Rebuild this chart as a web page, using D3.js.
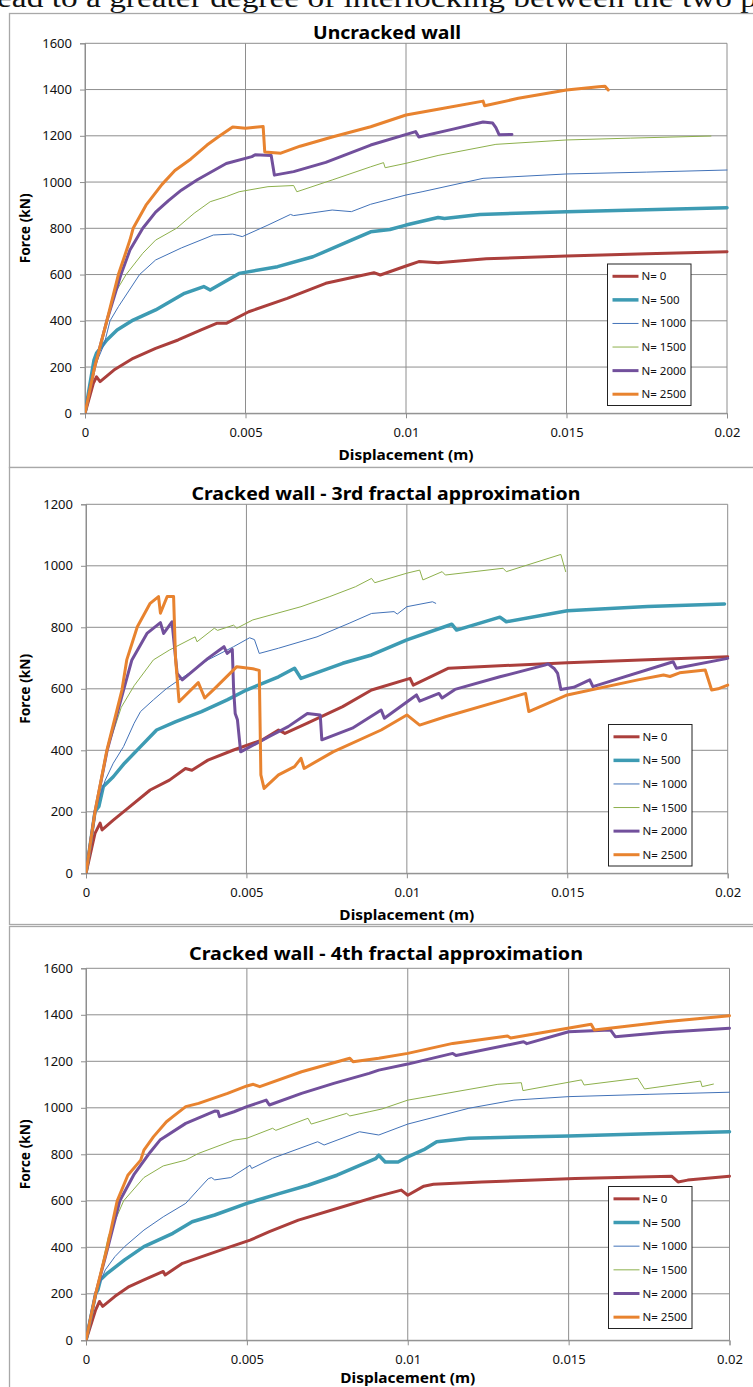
<!DOCTYPE html>
<html><head><meta charset="utf-8">
<script src="https://cdn.jsdelivr.net/npm/d3@7"></script>
<style>
html,body{margin:0;padding:0;background:#fff;overflow:hidden}
svg{display:block}
text{font-family:"Noto Sans",Arial,sans-serif}
</style></head>
<body>
<svg id="c" width="753" height="1387"></svg>
<script>
// ---------- data ----------
const seriesNames = ["N= 0","N= 500","N= 1000","N= 1500","N= 2000","N= 2500"];
const chartTitles = ["Uncracked wall","Cracked wall - 3rd fractal approximation","Cracked wall - 4th fractal approximation"];
const xTicks = [0,0.005,0.01,0.015,0.02];
const xTickLabels = ["0","0.005","0.01","0.015","0.02"];
const yTicks1600 = [0,200,400,600,800,1000,1200,1400,1600];
const yTicks1200 = [0,200,400,600,800,1000,1200];
const xLabel = "Displacement (m)";
const yLabel = "Force (kN)";
const topText = "ead to a greater degree of interlocking between the two p";

// Uncracked wall  [displacement (m), force (kN)]
const u_N0 = [[0,0],[0.00026,130],[0.00036,158],[0.00047,137],[0.0009,187],[0.0015,238],[0.0022,281],[0.0029,317],[0.0036,360],[0.0041,389],[0.0044,389],[0.0051,439],[0.0063,497],[0.0075,562],[0.009,608],[0.0092,598],[0.01,637],[0.0104,656],[0.011,651],[0.0125,668],[0.015,680],[0.0175,690],[0.02,699]];
const u_N500 = [[0,0],[0.00028,230],[0.00036,260],[0.00068,317],[0.001,360],[0.0015,403],[0.0022,447],[0.0031,519],[0.0037,548],[0.0039,533],[0.0048,605],[0.006,634],[0.0071,677],[0.0083,749],[0.0089,785],[0.0095,795],[0.01,814],[0.011,847],[0.0112,842],[0.0123,860],[0.015,872],[0.0175,880],[0.02,889]];
const u_N1000 = [[0,0],[0.0003,200],[0.0006,300],[0.00078,400],[0.00104,461],[0.0017,600],[0.0022,663],[0.003,715],[0.004,771],[0.0046,775],[0.0049,764],[0.0057,814],[0.0064,860],[0.0065,855],[0.0077,879],[0.0083,872],[0.0089,904],[0.01,944],[0.0105,958],[0.0124,1016],[0.015,1035],[0.0175,1043],[0.02,1052]];
const u_N1500 = [[0,0],[0.0003,200],[0.00068,400],[0.00085,500],[0.00128,600],[0.0018,692],[0.0022,749],[0.00285,800],[0.0034,865],[0.0039,915],[0.0044,937],[0.0048,958],[0.0057,980],[0.0065,985],[0.0066,958],[0.0077,1009],[0.0089,1066],[0.0093,1084],[0.00935,1062],[0.01,1081],[0.011,1115],[0.0128,1163],[0.015,1182],[0.017,1190],[0.0195,1199]];
const u_N2000 = [[0,0],[0.0003,200],[0.00068,400],[0.00112,600],[0.0014,706],[0.0018,800],[0.0022,870],[0.0026,920],[0.003,965],[0.0035,1010],[0.0044,1080],[0.0052,1110],[0.0053,1118],[0.0058,1115],[0.0059,1030],[0.0065,1045],[0.0075,1085],[0.0089,1160],[0.0103,1218],[0.0104,1195],[0.0115,1230],[0.0124,1260],[0.0127,1255],[0.0128,1235],[0.0129,1205],[0.0133,1206]];
const u_N2500 = [[0,0],[0.0003,200],[0.00068,400],[0.00104,600],[0.0014,749],[0.0015,800],[0.0019,900],[0.0024,990],[0.0028,1050],[0.0033,1100],[0.0038,1160],[0.0042,1200],[0.0046,1238],[0.005,1233],[0.0053,1237],[0.00555,1240],[0.0056,1130],[0.0061,1125],[0.0067,1155],[0.0077,1195],[0.0089,1239],[0.01,1290],[0.011,1315],[0.0124,1350],[0.01245,1330],[0.0135,1362],[0.015,1398],[0.016,1412],[0.0162,1414],[0.0163,1398]];

// Cracked wall - 3rd fractal approximation
const c3_N0 = [[0,0],[0.00028,130],[0.00044,163],[0.0005,141],[0.00085,173],[0.0013,211],[0.002,271],[0.0026,303],[0.0031,341],[0.0033,335],[0.0038,368],[0.0046,401],[0.0055,434],[0.006,466],[0.0062,455],[0.0069,488],[0.008,542],[0.0089,596],[0.0101,634],[0.0102,612],[0.0113,667],[0.015,685],[0.02,704]];
const c3_N500 = [[0,0],[0.00028,200],[0.0004,217],[0.00054,282],[0.00085,314],[0.0012,358],[0.0017,412],[0.0022,466],[0.0028,493],[0.0036,526],[0.0044,564],[0.005,596],[0.006,639],[0.0065,667],[0.0067,634],[0.008,683],[0.0089,710],[0.01,759],[0.0114,810],[0.01155,791],[0.0129,833],[0.0131,818],[0.015,854],[0.0175,868],[0.0199,876]];
const c3_N1000 = [[0,0],[0.00028,200],[0.0006,303],[0.00085,358],[0.00117,412],[0.0015,488],[0.0017,526],[0.0021,564],[0.0025,600],[0.0029,629],[0.0032,650],[0.0038,694],[0.0046,737],[0.0051,766],[0.00525,760],[0.0054,715],[0.006,732],[0.0072,769],[0.0082,813],[0.0089,845],[0.0096,851],[0.0097,843],[0.01,867],[0.0108,883],[0.0109,878]];
const c3_N1500 = [[0,0],[0.00028,200],[0.00066,400],[0.0011,540],[0.0015,610],[0.0021,694],[0.0026,726],[0.0034,769],[0.00346,753],[0.004,797],[0.0041,790],[0.0046,807],[0.0047,797],[0.0052,824],[0.0067,867],[0.0076,900],[0.0084,932],[0.0089,959],[0.009,945],[0.01,976],[0.0104,986],[0.0105,954],[0.0111,981],[0.0112,970],[0.013,992],[0.0131,981],[0.0148,1037],[0.01495,981]];
const c3_N2000 = [[0,0],[0.00028,200],[0.00066,400],[0.00117,596],[0.00143,694],[0.0019,780],[0.00232,815],[0.00242,780],[0.00268,818],[0.00284,650],[0.003,629],[0.0038,699],[0.0043,737],[0.0044,715],[0.00456,728],[0.0046,600],[0.00465,520],[0.00472,499],[0.00482,395],[0.0057,444],[0.0063,477],[0.0069,520],[0.0073,515],[0.00735,434],[0.0083,472],[0.0092,531],[0.0093,504],[0.0103,580],[0.0104,560],[0.011,585],[0.0111,570],[0.0115,598],[0.0129,639],[0.0143,677],[0.0144,681],[0.0146,665],[0.0147,650],[0.0148,598],[0.0152,605],[0.0157,629],[0.0158,607],[0.0183,688],[0.0184,667],[0.02,699]];
const c3_N2500 = [[0,0],[0.00028,200],[0.00065,400],[0.00112,596],[0.00127,694],[0.0016,802],[0.002,878],[0.00226,900],[0.00232,846],[0.00253,900],[0.00273,900],[0.00279,700],[0.0029,558],[0.0035,620],[0.0037,570],[0.004,600],[0.0047,672],[0.0052,665],[0.0054,660],[0.00545,320],[0.00555,276],[0.006,320],[0.0065,347],[0.0067,374],[0.0068,341],[0.0077,395],[0.0092,466],[0.01,515],[0.0104,482],[0.0112,509],[0.0137,585],[0.0138,526],[0.015,580],[0.0172,629],[0.018,645],[0.0182,640],[0.0185,652],[0.0193,661],[0.0195,596],[0.0197,600],[0.02,612]];

// Cracked wall - 4th fractal approximation
const c4_N0 = [[0,0],[0.0003,131],[0.00042,167],[0.00052,146],[0.0009,189],[0.00134,231],[0.0018,260],[0.0024,296],[0.00246,281],[0.003,331],[0.0036,360],[0.0045,403],[0.0051,431],[0.0057,467],[0.0066,517],[0.0078,567],[0.009,617],[0.0098,646],[0.01,624],[0.0105,663],[0.0108,671],[0.0123,681],[0.0152,696],[0.0182,706],[0.0184,681],[0.0187,689],[0.02,706]];
const c4_N500 = [[0,0],[0.0003,200],[0.00037,217],[0.00045,260],[0.00067,289],[0.0012,346],[0.0018,403],[0.0027,460],[0.0033,510],[0.004,539],[0.005,589],[0.006,631],[0.0069,667],[0.0078,710],[0.009,781],[0.0091,796],[0.0093,767],[0.0097,767],[0.01,789],[0.0105,820],[0.0109,854],[0.0119,869],[0.015,879],[0.0175,888],[0.02,897]];
const c4_N1000 = [[0,0],[0.0003,200],[0.0006,303],[0.0009,360],[0.0012,403],[0.0018,474],[0.0024,531],[0.0031,589],[0.0035,650],[0.0038,695],[0.0039,700],[0.004,690],[0.0045,700],[0.0051,753],[0.00515,739],[0.0058,783],[0.0072,854],[0.0074,840],[0.0085,897],[0.0091,883],[0.01,930],[0.0119,998],[0.0133,1033],[0.015,1048],[0.0175,1058],[0.02,1067]];
const c4_N1500 = [[0,0],[0.0003,200],[0.0007,450],[0.00117,600],[0.0018,700],[0.0024,750],[0.0031,775],[0.0035,804],[0.0046,861],[0.005,869],[0.0058,912],[0.0059,903],[0.0069,955],[0.007,930],[0.0081,976],[0.0082,965],[0.0088,983],[0.0092,995],[0.01,1033],[0.0128,1101],[0.01353,1108],[0.01358,1074],[0.0154,1120],[0.01548,1098],[0.01715,1127],[0.01736,1081],[0.0191,1115],[0.01915,1091],[0.0195,1102]];
const c4_N2000 = [[0,0],[0.0003,200],[0.00068,400],[0.00105,600],[0.0015,715],[0.002,810],[0.0023,861],[0.0031,933],[0.004,986],[0.0041,985],[0.00415,962],[0.0046,983],[0.005,1005],[0.0056,1033],[0.0057,1012],[0.0067,1062],[0.0077,1105],[0.0088,1148],[0.0091,1162],[0.01,1188],[0.0114,1234],[0.0115,1225],[0.0136,1284],[0.0137,1276],[0.015,1327],[0.0163,1335],[0.01645,1306],[0.018,1325],[0.02,1342]];
const c4_N2500 = [[0,0],[0.0003,200],[0.00066,400],[0.00097,600],[0.0013,710],[0.0017,775],[0.0018,818],[0.0021,876],[0.0025,940],[0.0027,962],[0.0031,1005],[0.0035,1019],[0.0044,1062],[0.005,1094],[0.0052,1101],[0.0054,1091],[0.0067,1155],[0.0082,1213],[0.0083,1198],[0.0091,1213],[0.01,1234],[0.0114,1277],[0.0131,1309],[0.0132,1300],[0.0157,1359],[0.0158,1335],[0.018,1370],[0.02,1396]];

// ---------- styles ----------
const seriesColors = ["#AB3F3C","#3D9BB3","#4272B8","#8DB04C","#72509C","#E8832F"];
const seriesWidths = [3,3.5,1,1,3,3];

const panels = [
  {title:chartTitles[0], data:[u_N0,u_N500,u_N1000,u_N1500,u_N2000,u_N2500], yTicks:yTicks1600, yMax:1600,
   frame:[9.5,13.5,760,467.5], plot:[85,43.3,727,413.3], titleY:39, titleX:387, titleLen:148, xLabY:460,
   legend:[607.5,264,83.5,141.5]},
  {title:chartTitles[1], data:[c3_N0,c3_N500,c3_N1000,c3_N1500,c3_N2000,c3_N2500], yTicks:yTicks1200, yMax:1200,
   frame:[9.5,467.5,760,924.5], plot:[86,504.3,727.7,873.3], titleY:499.5, titleX:386, titleLen:389, xLabY:919.5,
   legend:[608.5,724.5,83.5,141.5]},
  {title:chartTitles[2], data:[c4_N0,c4_N500,c4_N1000,c4_N1500,c4_N2000,c4_N2500], yTicks:yTicks1600, yMax:1600,
   frame:[9.5,926.5,760,1400], plot:[86,968.3,729.5,1340.3], titleY:959.5, titleX:386, titleLen:394, xLabY:1383,
   legend:[608.5,1186.5,83.5,142]}
];

const svg = d3.select("#c");
svg.append("rect").attr("width",753).attr("height",1387).attr("fill","#fff");

// partially visible paragraph line at top (cut off in the source image as well)
svg.append("text").attr("x",-3).attr("y",7)
  .attr("font-size",27).attr("fill","#111").attr("textLength",760).attr("lengthAdjust","spacingAndGlyphs")
  .style("font-family","'Liberation Serif','DejaVu Serif',serif").text(topText);

const gridCol = "#8E8E8E";

panels.forEach((p,pi)=>{
  const g = svg.append("g");
  const [fx0,fy0,fx1,fy1] = p.frame;
  g.append("rect").attr("x",fx0).attr("y",fy0).attr("width",fx1-fx0).attr("height",fy1-fy0)
    .attr("fill","#fff").attr("stroke","#A8A8A8").attr("stroke-width",1.3);

  const [px0,py0,px1,py1] = p.plot;
  const x = d3.scaleLinear().domain([0,0.02]).range([px0,px1]);
  const y = d3.scaleLinear().domain([0,p.yMax]).range([py1,py0]);

  g.append("g").selectAll("line").data(p.yTicks).join("line")
    .attr("x1",px0).attr("x2",px1).attr("y1",d=>y(d)).attr("y2",d=>y(d))
    .attr("stroke",gridCol).attr("stroke-width",1);
  g.append("g").selectAll("line").data(xTicks).join("line")
    .attr("y1",py0).attr("y2",py1).attr("x1",d=>x(d)).attr("x2",d=>x(d))
    .attr("stroke",gridCol).attr("stroke-width",1);

  const ya = g.append("g").attr("transform",`translate(${px0},0)`)
    .call(d3.axisLeft(y).tickValues(p.yTicks).tickSize(5).tickPadding(8).tickFormat(d3.format("d")));
  const xa = g.append("g").attr("transform",`translate(0,${py1})`)
    .call(d3.axisBottom(x).tickValues(xTicks).tickSize(5).tickPadding(9).tickFormat((d,i)=>xTickLabels[i]));
  [ya,xa].forEach(a=>{
    a.select(".domain").attr("stroke",gridCol);
    a.selectAll(".tick line").attr("stroke",gridCol);
    a.selectAll(".tick text").attr("font-size",13).attr("fill","#111").style("font-family","'Noto Sans',sans-serif");
  });

  const cid = "clip"+pi;
  g.append("clipPath").attr("id",cid).append("rect").attr("x",px0).attr("y",py0-4).attr("width",px1-px0+3).attr("height",py1-py0+4);

  const line = d3.line().x(d=>x(d[0])).y(d=>y(d[1]));
  const lg = g.append("g").attr("clip-path",`url(#${cid})`);
  p.data.forEach((s,i)=>{
    lg.append("path").datum(s).attr("d",line).attr("fill","none")
      .attr("stroke",seriesColors[i]).attr("stroke-width",seriesWidths[i])
      .attr("stroke-linejoin","round").attr("stroke-linecap","round");
  });

  g.append("text").attr("x",p.titleX).attr("y",p.titleY).attr("text-anchor","middle")
    .attr("font-size",18).attr("font-weight","bold").attr("fill","#000")
    .attr("textLength",p.titleLen).attr("lengthAdjust","spacingAndGlyphs").text(p.title);

  g.append("text").attr("x",(px0+px1)/2).attr("y",p.xLabY).attr("text-anchor","middle")
    .attr("font-size",14).attr("font-weight","bold").attr("fill","#000")
    .attr("textLength",135).attr("lengthAdjust","spacingAndGlyphs").text(xLabel);
  g.append("text").attr("transform",`translate(30,${(py0+py1)/2}) rotate(-90)`).attr("text-anchor","middle")
    .attr("font-size",14).attr("font-weight","bold").attr("fill","#000")
    .attr("textLength",70).attr("lengthAdjust","spacingAndGlyphs").text(yLabel);

  const [lx,ly,lw,lh] = p.legend;
  const leg = g.append("g");
  leg.append("rect").attr("x",lx).attr("y",ly).attr("width",lw).attr("height",lh)
    .attr("fill","#fff").attr("stroke","#222").attr("stroke-width",1);
  const step = lh/6;
  seriesNames.forEach((nm,i)=>{
    const cy = ly + step*(i+0.5) + 0.5;
    leg.append("line").attr("x1",lx+5).attr("x2",lx+31).attr("y1",cy).attr("y2",cy)
      .attr("stroke",seriesColors[i]).attr("stroke-width",seriesWidths[i]);
    leg.append("text").attr("x",lx+34).attr("y",cy+4).attr("font-size",11.5).attr("fill","#111").text(nm);
  });
});
</script>
</body></html>
